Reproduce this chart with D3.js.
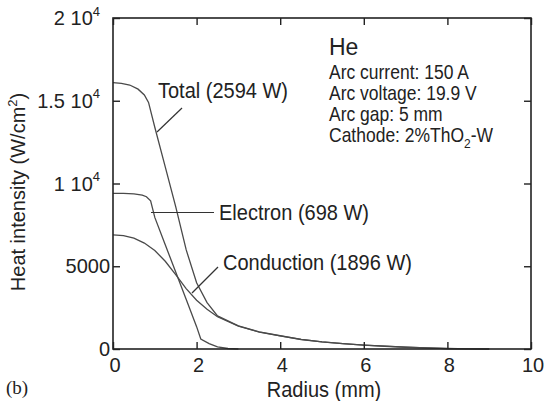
<!DOCTYPE html>
<html><head><meta charset="utf-8">
<script src="https://cdn.jsdelivr.net/npm/d3@7"></script>
<style>body{margin:0;background:#fff}svg{display:block}text{font-family:"Liberation Sans",Arial,sans-serif;fill:#222}</style>
</head><body>
<svg id="c" width="546" height="401"></svg>
<script>
const xTicks = [0, 2, 4, 6, 8, 10];
const yTicks = [0, 5000, 10000, 15000, 20000];
const yTickLabels = [["0", ""], ["5000", ""], ["1 10", "4"], ["1.5 10", "4"], ["2 10", "4"]];

const totalR = [0, 0.2, 0.4, 0.6, 0.75, 0.85, 1.0, 1.25, 1.5, 1.75, 2.0, 2.25, 2.5, 3.0, 3.5, 4.0, 4.5, 5.0, 5.5, 6.0, 6.5, 7.0, 7.5, 8.0, 8.5, 9.0];
const totalV = [16100, 16050, 15950, 15700, 15350, 14900, 13400, 11000, 8600, 6000, 4000, 2800, 2000, 1400, 1030, 800, 580, 430, 330, 240, 170, 110, 65, 30, 8, 0];

const electronR = [0, 0.25, 0.5, 0.7, 0.8, 0.9, 1.0, 1.25, 1.5, 1.75, 2.0, 2.1, 2.3, 2.5, 2.75, 3.0];
const electronV = [9400, 9400, 9370, 9300, 9200, 8950, 7950, 6300, 4650, 3000, 1350, 600, 330, 130, 30, 0];

const conductionR = [0, 0.25, 0.5, 0.75, 1.0, 1.25, 1.5, 1.75, 2.0, 2.25, 2.5, 3.0, 3.5, 4.0, 4.5, 5.0, 5.5, 6.0, 6.5, 7.0, 7.5, 8.0, 8.5, 9.0];
const conductionV = [6900, 6850, 6700, 6400, 5950, 5300, 4500, 3650, 2950, 2400, 1950, 1380, 1020, 790, 575, 425, 325, 235, 165, 105, 62, 28, 6, 0];

const infoLines = ["Arc current: 150 A", "Arc voltage: 19.9 V", "Arc gap: 5 mm"];

const svg = d3.select("#c");
const L = 113, R = 531, T = 18, B = 349;
const x = d3.scaleLinear().domain([0, 10]).range([L, R]);
const y = d3.scaleLinear().domain([0, 20000]).range([B, T]);
const SY = 1.08;
function txt(px, py, size, sy) {
  return svg.append("text").attr("transform", `translate(${px},${py}) scale(1,${sy || SY})`).attr("font-size", size);
}

const series = [[totalR, totalV], [electronR, electronV], [conductionR, conductionV]];
const line = d3.line().x(d => x(d[0])).y(d => y(d[1]));
series.forEach(([rs, vs]) => {
  svg.append("path").datum(rs.map((r, i) => [r, vs[i]]))
    .attr("d", line).attr("fill", "none").attr("stroke", "#4a4a4a").attr("stroke-width", 1.3);
});

// frame
svg.append("rect").attr("x", L).attr("y", T).attr("width", R - L).attr("height", B - T)
  .attr("fill", "none").attr("stroke", "#222").attr("stroke-width", 1.6);

// ticks (inward) using axes
const tl = 7;
const styleAx = g => { g.select(".domain").remove(); g.selectAll("line").attr("stroke", "#222").attr("stroke-width", 1.4); };
svg.append("g").attr("transform", `translate(0,${B})`)
  .call(d3.axisBottom(x).tickValues(xTicks).tickSize(-tl).tickFormat("")).call(styleAx);
svg.append("g").attr("transform", `translate(0,${T})`)
  .call(d3.axisTop(x).tickValues(xTicks).tickSize(-tl).tickFormat("")).call(styleAx);
svg.append("g").attr("transform", `translate(${L},0)`)
  .call(d3.axisLeft(y).tickValues(yTicks).tickSize(-tl).tickFormat("")).call(styleAx);
svg.append("g").attr("transform", `translate(${R},0)`)
  .call(d3.axisRight(y).tickValues(yTicks).tickSize(-tl).tickFormat("")).call(styleAx);

// x tick labels
xTicks.forEach(t => {
  txt(x(t) + 2, 372, 20, 1.05).attr("text-anchor", "middle").text(t);
});
// y tick labels
yTicks.forEach((t, i) => {
  const [main, sup] = yTickLabels[i];
  const tx = txt(sup ? 100 : 110, y(t) + 7, 20, 1.05).attr("text-anchor", "end");
  tx.append("tspan").text(main);
  if (sup) tx.append("tspan").attr("font-size", 13).attr("dy", -9).text(sup);
});

// axis titles
txt(324, 397, 20).attr("text-anchor", "middle").text("Radius (mm)");
const yl = svg.append("text").attr("transform", "translate(25,192) rotate(-90)").attr("text-anchor", "middle").attr("font-size", 20);
yl.append("tspan").text("Heat intensity (W/cm");
yl.append("tspan").attr("font-size", 13).attr("dy", -8).text("2");
yl.append("tspan").attr("dy", 8).text(")");
svg.append("text").attr("x", 6).attr("y", 394).attr("font-size", 19)
  .style("font-family", "'Liberation Serif','Times New Roman',serif").text("(b)");

// annotations
txt(158, 98, 20, 1.1).text("Total (2594 W)");
svg.append("line").attr("x1", 182).attr("y1", 108).attr("x2", 157).attr("y2", 132).attr("stroke", "#333").attr("stroke-width", 1.2);
txt(219, 220, 20, 1.1).text("Electron (698 W)");
svg.append("line").attr("x1", 151).attr("y1", 212.5).attr("x2", 214).attr("y2", 212.5).attr("stroke", "#333").attr("stroke-width", 1.2);
txt(223, 270, 20, 1.1).text("Conduction (1896 W)");
svg.append("line").attr("x1", 192).attr("y1", 293).attr("x2", 218).attr("y2", 267).attr("stroke", "#333").attr("stroke-width", 1.2);

// info block
txt(329, 55, 23, 1.05).text("He");
infoLines.forEach((s, i) => {
  txt(329, 79 + i * 21, 17.5, 1.12).text(s);
});
const cat = txt(329, 142, 17.5, 1.12);
cat.append("tspan").text("Cathode: 2%ThO");
cat.append("tspan").attr("font-size", 12).attr("dy", 5).text("2");
cat.append("tspan").attr("dy", -5).text("-W");
</script>
</body></html>
